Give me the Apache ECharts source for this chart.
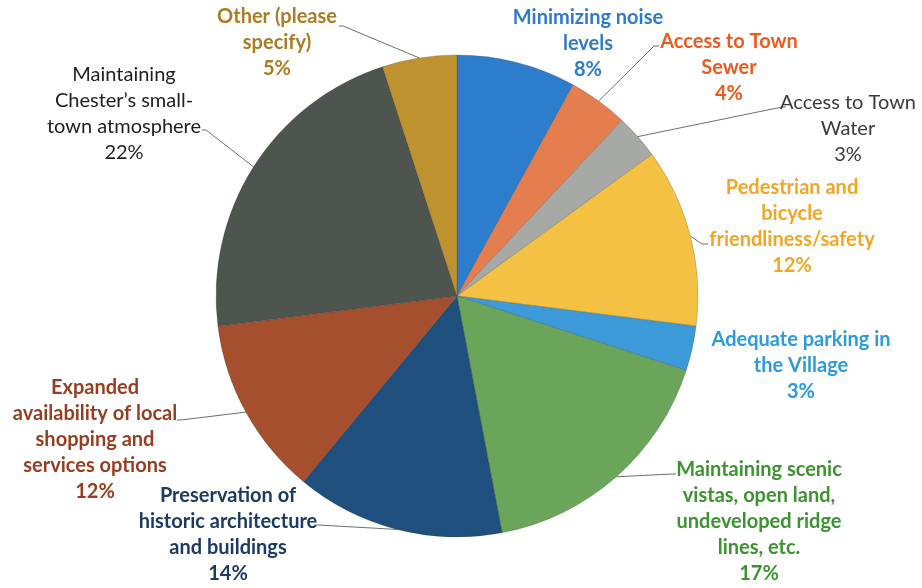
<!DOCTYPE html>
<html>
<head>
<meta charset="utf-8">
<script src="https://cdn.jsdelivr.net/npm/echarts@6/dist/echarts.min.js"></script>
<style>
  html, body { margin: 0; padding: 0; background: #fff; }
  #chart { width: 922px; height: 588px; }
</style>
</head>
<body>
<div id="chart"></div>
<script>
// Survey priorities, clockwise from 12 o'clock
const categories = [
  'Minimizing noise\nlevels',
  'Access to Town\nSewer',
  'Access to Town\nWater',
  'Pedestrian and\nbicycle\nfriendliness/safety',
  'Adequate parking in\nthe Village',
  'Maintaining scenic\nvistas, open land,\nundeveloped ridge\nlines, etc.',
  'Preservation of\nhistoric architecture\nand buildings',
  'Expanded\navailability of local\nshopping and\nservices options',
  'Maintaining\nChester\u2019s small-\ntown atmosphere',
  'Other (please\nspecify)'
];
const percents = [8, 4, 3, 12, 3, 17, 14, 12, 22, 5];

const sliceColors = ['#2C7DCB', '#E57E4E', '#A7A9A6', '#F4C142', '#3C9AD8',
                     '#6AA55A', '#1F4F7C', '#A54F2E', '#4E554F', '#BF9230'];
const labelColors = ['#2F7BCB', '#EE5A1E', '#3A3A3A', '#F2A623', '#2B9BE0',
                     '#3C9430', '#1C3A66', '#983D1F', '#1E1E1E', '#AE7A22'];
const labelWeights = ['bold', 'bold', 'normal', 'bold', 'bold',
                      'bold', 'bold', 'bold', 'normal', 'bold'];

// label anchor: [centre x, top y]
const labelAnchors = [
  [588, 5], [729, 29], [848, 90], [792, 175], [801, 327],
  [759, 457], [228, 483], [95, 375], [124, 62], [277, 4]
];
// leader line tail (elbow, end) near each label; null = no leader line
const leaderTails = [
  null,
  [[654, 46], [659, 46]],
  [[782, 107], [786, 107]],
  [[702, 244], [708, 244]],
  null,
  [[672, 474], [676, 474]],
  [[318, 525], [314, 525]],
  [[181, 420], [177, 420]],
  [[206, 130], [202, 130]],
  [[343, 26], [339, 26]]
];

const chart = echarts.init(document.getElementById('chart'), null, { renderer: 'canvas' });

const data = categories.map((name, i) => ({
  name: name,
  value: percents[i],
  itemStyle: { color: sliceColors[i] },
  label: { color: labelColors[i], fontWeight: labelWeights[i] },
  labelLine: { show: leaderTails[i] !== null }
}));

chart.setOption({
  animation: false,
  backgroundColor: '#ffffff',
  series: [{
    type: 'pie',
    center: [457, 296],
    radius: 241,
    startAngle: 90,
    clockwise: true,
    avoidLabelOverlap: false,
    data: data,
    itemStyle: { borderColor: 'rgba(40,40,40,0.35)', borderWidth: 0.6 },
    label: {
      show: true,
      position: 'outside',
      formatter: p => p.name + '\n' + p.value + '%',
      fontFamily: 'Lato, "Open Sans", sans-serif',
      fontSize: 20,
      lineHeight: 26,
      align: 'center'
    },
    labelLine: {
      show: true,
      lineStyle: { color: '#6f6f6f', width: 1 },
      length: 10,
      length2: 10
    },
    emphasis: { disabled: true },
    labelLayout: function (params) {
      const i = params.dataIndex;
      const a = labelAnchors[i];
      const out = { x: a[0], y: a[1], align: 'center', verticalAlign: 'top', hideOverlap: false, moveOverlap: false };
      const tail = leaderTails[i];
      if (tail && params.labelLinePoints) {
        out.labelLinePoints = [params.labelLinePoints[0], tail[0], tail[1]];
      }
      return out;
    }
  }]
});
</script>
</body>
</html>
